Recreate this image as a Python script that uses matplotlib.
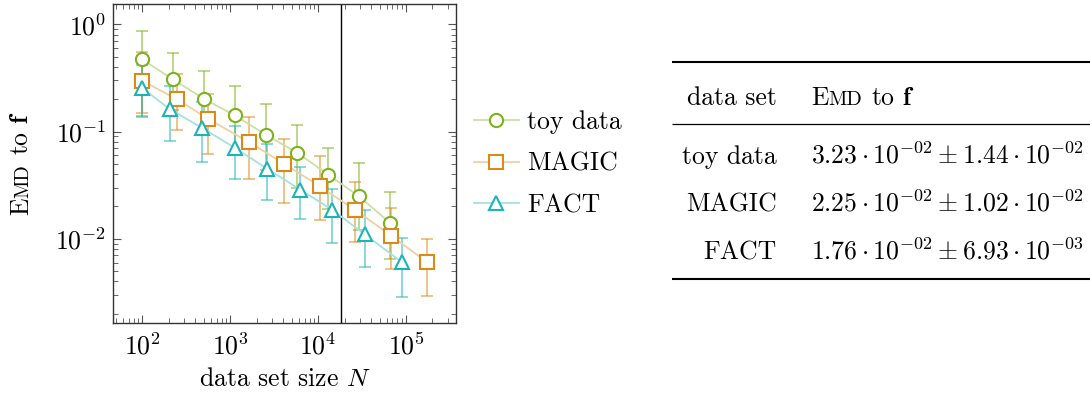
import numpy as np
import matplotlib
matplotlib.use("Agg")
import matplotlib.pyplot as plt
from matplotlib.ticker import FuncFormatter, LogLocator, NullFormatter

# data
toy_n = [100, 221, 502, 1120, 2570, 5820, 13000, 29200, 66300]
toy_emd = [0.471, 0.308, 0.202, 0.142, 0.093, 0.0632, 0.0397, 0.0249, 0.0140]
toy_hi = [0.873, 0.543, 0.369, 0.265, 0.179, 0.115, 0.0709, 0.0506, 0.0275]
toy_lo = [0.140, 0.159, 0.100, 0.0636, 0.0439, 0.0297, 0.0189, 0.0121, 0.0065]

magic_n = [100, 248, 563, 1640, 4140, 10500, 26500, 67600, 175000]
magic_emd = [0.298, 0.200, 0.131, 0.0795, 0.0499, 0.0308, 0.0185, 0.0107, 0.00601]
magic_hi = [0.556, 0.343, 0.225, 0.138, 0.0854, 0.0588, 0.0336, 0.0195, 0.00993]
magic_lo = [0.149, 0.103, 0.0614, 0.0361, 0.0217, 0.0151, 0.00931, 0.00521, 0.00293]

fact_n = [100, 205, 472, 1130, 2630, 6240, 14400, 33900, 90800]
fact_emd = [0.254, 0.162, 0.109, 0.0704, 0.0451, 0.0287, 0.0187, 0.0110, 0.00601]
fact_hi = [0.42, 0.265, 0.19, 0.113, 0.0762, 0.0468, 0.0293, 0.0187, 0.0101]
fact_lo = [0.137, 0.0818, 0.052, 0.0361, 0.0228, 0.0152, 0.00904, 0.00551, 0.00285]

n_split = 1.8e4

names = ["toy data", "MAGIC", "FACT"]
means = [r"$3.23\cdot10^{-02}\pm1.44\cdot10^{-02}$",
         r"$2.25\cdot10^{-02}\pm1.02\cdot10^{-02}$",
         r"$1.76\cdot10^{-02}\pm6.93\cdot10^{-03}$"]

plt.rcParams["font.family"] = "serif"
plt.rcParams["font.serif"] = ["cmr10"]
plt.rcParams["mathtext.fontset"] = "cm"
plt.rcParams["axes.unicode_minus"] = False
FS = 18.5

def lighten(c, f):
    rgb = np.array(matplotlib.colors.to_rgb(c))
    return tuple(rgb + (1 - rgb) * f)

fig = plt.figure(figsize=(10.9, 4.0), dpi=100)
ax = fig.add_axes([0.104, 0.192, 0.3143, 0.798])

series = [
    (toy_n, toy_emd, toy_lo, toy_hi, "#7cb31b", "o", "toy data"),
    (magic_n, magic_emd, magic_lo, magic_hi, "#d98a19", "s", "MAGIC"),
    (fact_n, fact_emd, fact_lo, fact_hi, "#1db4b8", "^", "FACT"),
]
for n, e, lo, hi, c, m, lab in series:
    e = np.array(e)
    yerr = [e - np.array(lo), np.array(hi) - e]
    ax.errorbar(n, e, yerr=yerr, fmt="none", ecolor=c, alpha=0.55,
                elinewidth=1.3, capsize=4.5, capthick=1.3, zorder=2)
    ax.plot(n, e, color=lighten(c, 0.6), lw=1.3, marker=m, ms=9.5,
            mfc="white", mec=c, mew=1.5, label=lab, zorder=3)

ax.axvline(n_split, color="black", lw=1.0, zorder=1)

ax.set_xscale("log")
ax.set_yscale("log")
ax.set_xlim(46.8, 3.7e5)
ax.set_ylim(1.63e-3, 1.55)
fmt = FuncFormatter(lambda v, p: r"$10^{%d}$" % round(np.log10(v)))
ax.xaxis.set_major_formatter(fmt)
ax.yaxis.set_major_formatter(fmt)
ax.xaxis.set_major_locator(LogLocator(base=10, numticks=10))
ax.yaxis.set_major_locator(LogLocator(base=10, numticks=10))
ax.xaxis.set_minor_formatter(NullFormatter())
ax.yaxis.set_minor_formatter(NullFormatter())
ax.tick_params(which="both", direction="in", top=True, right=True,
               color="#555555", labelsize=FS)
ax.tick_params(which="major", length=6, width=0.8)
ax.tick_params(which="minor", length=3.5, width=0.6)
ax.tick_params(axis="x", which="major", pad=7)
ax.tick_params(axis="y", which="major", pad=5)
for s in ax.spines.values():
    s.set_linewidth(1.0)
    s.set_color("#333333")
ax.set_xlabel(r"data set size $N$", fontsize=FS, labelpad=6)

ax.legend(loc="center left", bbox_to_anchor=(474 / 1090, 1 - 164 / 400),
          bbox_transform=fig.transFigure, frameon=False, fontsize=FS,
          handlelength=1.75, handletextpad=0.31, labelspacing=0.69,
          borderpad=0, borderaxespad=0)

# overlay axes in pixel units for the table and the small-caps label
ov = fig.add_axes([0, 0, 1, 1], zorder=-1)
ov.set_xlim(0, 1090)
ov.set_ylim(400, 0)
ov.axis("off")
renderer = fig.canvas.get_renderer()
px = 100 / 72.0
gap = 0.333 * FS * px

def emd_label(x, y, rotation=0, anchor="start"):
    parts = [("E", FS), ("MD", FS * 0.78), (r"to $\mathbf{f}$", FS)]
    texts = []
    pos = 0.0
    for i, (s, size) in enumerate(parts):
        if i == 2:
            pos += gap
        t = ov.text(0, 0, s, fontsize=size, rotation=rotation,
                    rotation_mode="anchor", ha="left", va="baseline")
        bb = t.get_window_extent(renderer)
        texts.append((t, pos))
        pos += bb.height if rotation else bb.width
    start = -pos / 2 if anchor == "center" else 0.0
    for t, p in texts:
        if rotation:
            t.set_position((x, y - start - p))
        else:
            t.set_position((x + start + p, y))

# y label, reading upward and centred on the axes
emd_label(28, 163.5, rotation=90, anchor="center")

# table
ov.plot([672, 1090], [62, 62], color="black", lw=1.5, solid_capstyle="butt")
ov.plot([672, 1090], [124, 124], color="black", lw=0.9, solid_capstyle="butt")
ov.plot([672, 1090], [279, 279], color="black", lw=1.5, solid_capstyle="butt")
ov.text(777, 105, "data set", fontsize=FS, ha="right", va="baseline")
emd_label(811, 105)
row_y = [164, 212, 260]
for name, val, yy in zip(names, means, row_y):
    ov.text(777, yy, name, fontsize=FS, ha="right", va="baseline")
    ov.text(811, yy, val, fontsize=FS, ha="left", va="baseline")

fig.savefig("out.png", dpi=100)
